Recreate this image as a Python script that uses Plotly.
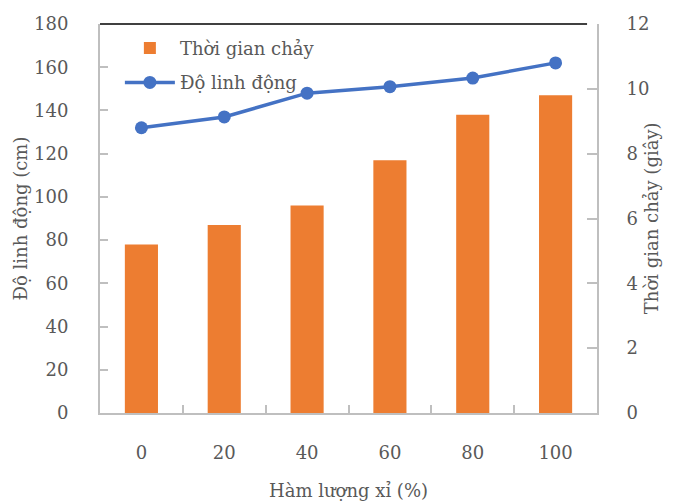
import plotly.graph_objects as go

categories = ["0", "20", "40", "60", "80", "100"]
thoi_gian_chay = [5.2, 5.8, 6.4, 7.8, 9.2, 9.8]      # giây (right axis)
do_linh_dong = [132, 137, 148, 151, 155, 162]         # cm (left axis)

FONT = "DejaVu Serif"
TXT = "#595959"
AX = "#BFBFBF"

fig = go.Figure()
fig.add_trace(go.Bar(
    x=categories, y=thoi_gian_chay, name="Thời gian chảy", legendgroup="a",
    marker=dict(color="#ED7D31", line=dict(width=0)), yaxis="y",
))
fig.add_trace(go.Scatter(
    x=categories, y=do_linh_dong, name="Độ linh động", mode="lines+markers", legendgroup="b",
    line=dict(color="#4472C4", width=3.5),
    marker=dict(color="#4472C4", size=13), yaxis="y2",
))

fig.update_layout(
    width=678, height=504,
    margin=dict(l=100, r=81, t=24, b=91, autoexpand=False),
    paper_bgcolor="white", plot_bgcolor="white",
    font=dict(family=FONT, size=18, color=TXT),
    bargap=0.6,
    showlegend=True,
    legend=dict(x=0.04, y=0.985, xanchor="left", yanchor="top",
                bgcolor="rgba(0,0,0,0)", font=dict(family=FONT, size=18, color=TXT),
                tracegroupgap=8, itemwidth=50, traceorder="grouped"),
    xaxis=dict(
        type="category", tickson="boundaries", ticks="inside", ticklen=8,
        tickcolor=AX, tickwidth=1.5, showline=True, linecolor=AX, linewidth=2,
        showgrid=False, ticklabelstandoff=22, automargin=False,
        title=dict(text="Hàm lượng xỉ (%)", standoff=23, font=dict(family=FONT, size=18, color=TXT)),
    ),
    yaxis=dict(
        side="right", range=[0, 12], dtick=2, ticks="inside", ticklen=10,
        tickcolor=AX, tickwidth=1.5, showline=True, linecolor=AX, linewidth=2,
        showgrid=False, zeroline=False, ticklabelstandoff=24, automargin=False,
    ),
    yaxis2=dict(
        side="left", overlaying="y", range=[0, 180], dtick=20, ticks="inside", ticklen=8,
        tickcolor=AX, tickwidth=1.5, showline=True, linecolor=AX, linewidth=2,
        showgrid=False, zeroline=False, ticklabelstandoff=26, automargin=False,
    ),
    annotations=[
        dict(text="Độ linh động (cm)", textangle=-90, xref="paper", yref="paper",
             x=-0.159, y=0.5, xanchor="center", yanchor="middle", showarrow=False,
             font=dict(family=FONT, size=18, color=TXT)),
        dict(text="Thời gian chảy (giây)", textangle=-90, xref="paper", yref="paper",
             x=1.110, y=0.5, xanchor="center", yanchor="middle", showarrow=False,
             font=dict(family=FONT, size=18, color=TXT)),
    ],
    shapes=[dict(type="line", xref="paper", yref="paper", x0=0, x1=0.98, y0=1, y1=1,
                 line=dict(color="black", width=1.5))],
)

fig.write_html("out.html")
